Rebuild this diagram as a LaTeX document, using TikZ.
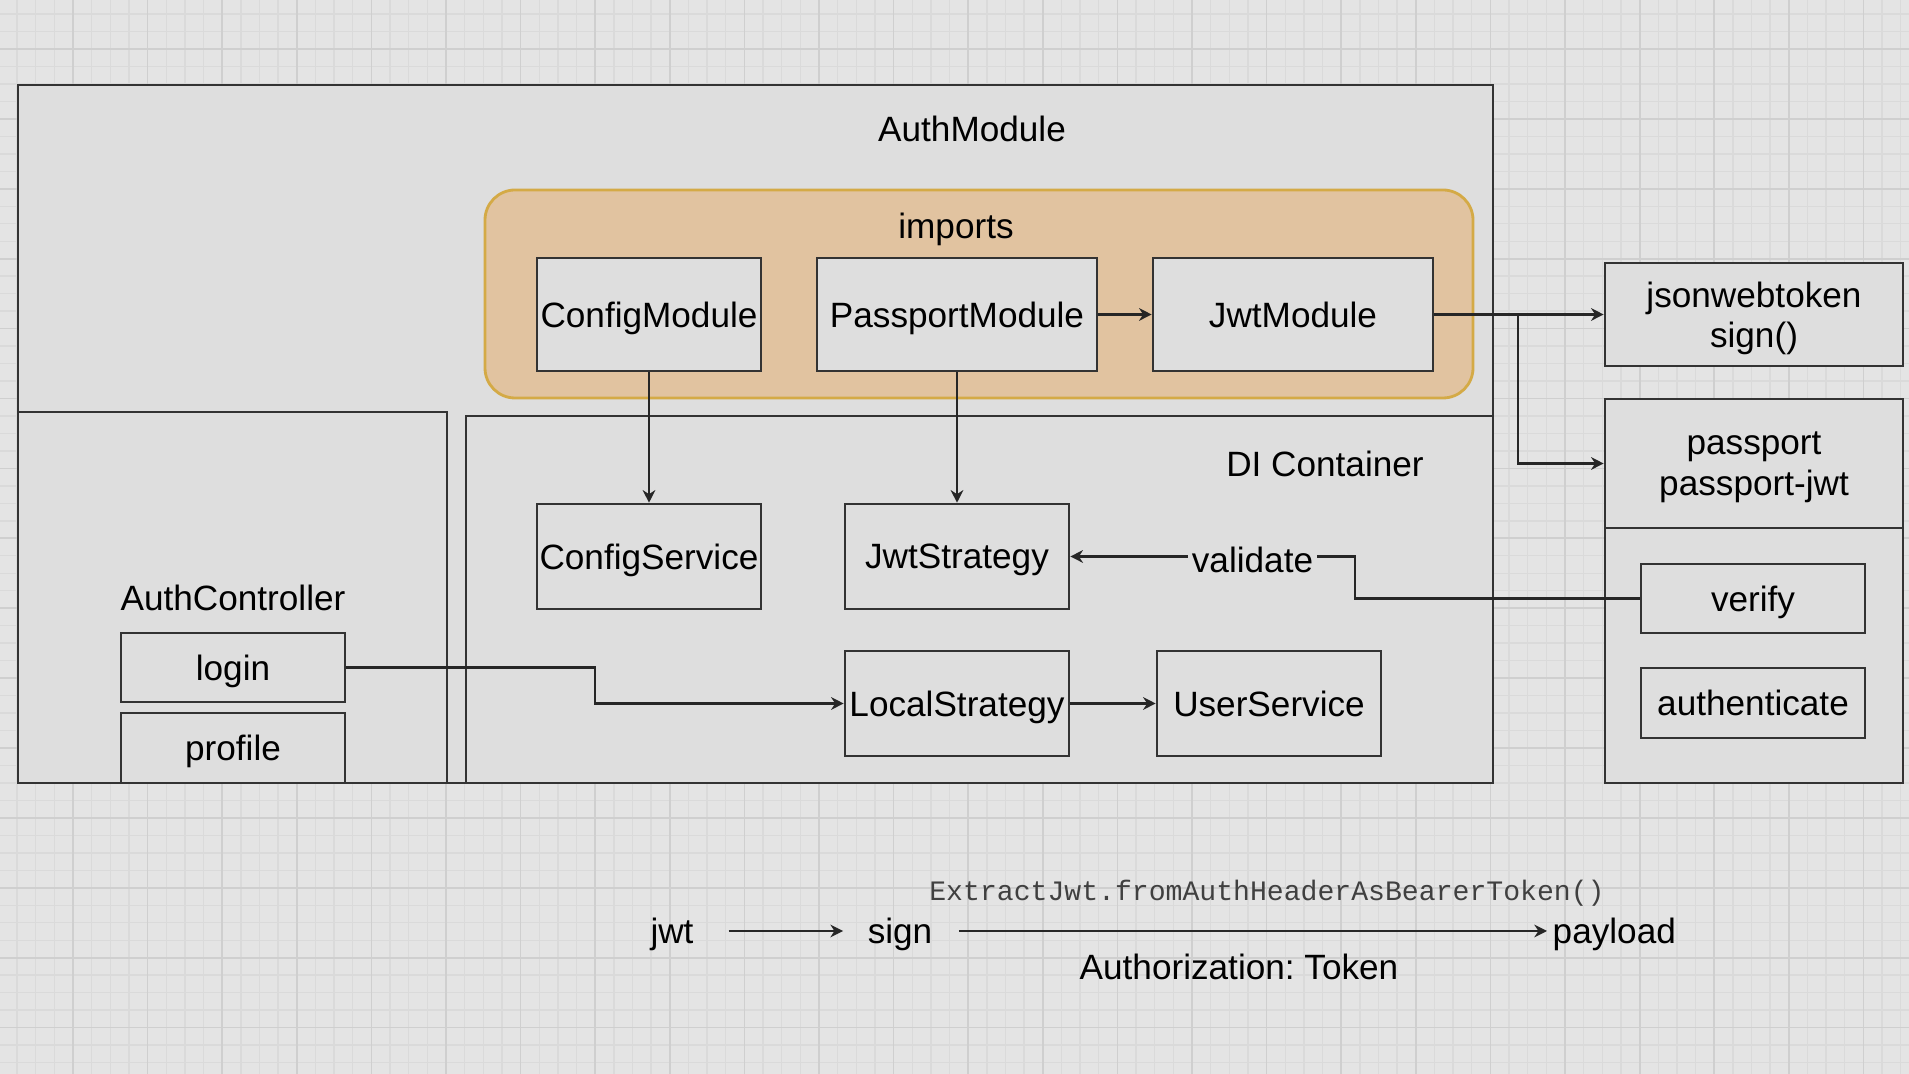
\documentclass[tikz,border=0pt]{standalone}
\usepackage{fontspec}
\setmainfont{Liberation Sans}
\setmonofont{Liberation Mono}
\usetikzlibrary{arrows.meta,positioning}
\frenchspacing

\definecolor{bggray}{RGB}{228,228,228}
\definecolor{boxgray}{RGB}{222,222,222}
\definecolor{minorline}{RGB}{218,218,218}
\definecolor{majorline}{RGB}{207,207,207}
\definecolor{impfill}{RGB}{225,195,160}
\definecolor{impdraw}{RGB}{212,170,70}

\begin{document}
\begin{tikzpicture}[x=0.01cm,y=-0.01cm,
	font=\fontsize{10}{11.5}\selectfont,
	every node/.append style={text depth=0pt},
	frame/.style={draw=black!80, line width=0.7pt, fill=boxgray},
	box/.style={frame, inner sep=0pt, align=center},
	mod/.style={box, minimum width=2.24cm, minimum height=1.13cm},
	svc/.style={box, minimum width=2.24cm, minimum height=1.05cm},
	small/.style={box, minimum width=2.24cm, minimum height=0.69cm},
	arr/.style={-{Stealth[length=3.6pt,width=3.6pt]}, draw=black!85, line width=0.6pt},
	lbl/.style={fill=boxgray, inner sep=1pt},
	flow/.style={inner sep=0pt},
	mono/.style={font=\fontsize{8}{9}\ttfamily, text=black!75}]
	\useasboundingbox (0,0) rectangle (1909,1074);
	\begin{scope}
		\clip (0,0) rectangle (1909,1074);
		\fill[bggray] (0,0) rectangle (1909,1074);
		\foreach \i in {0,...,103} \draw[minorline, line width=0.4pt] ({-1.6+18.65*\i},0) -- ++(0,1074);
		\foreach \j in {0,...,62} \draw[minorline, line width=0.4pt] (0,{-3.4+17.475*\j}) -- ++(1909,0);
		\foreach \i in {0,...,25} \draw[majorline, line width=0.5pt] ({-1.6+74.6*\i},0) -- ++(0,1074);
		\foreach \j in {0,...,15} \draw[majorline, line width=0.5pt] (0,{-20.9+69.9*\j}) -- ++(1909,0);
	\end{scope}

	\draw[frame] (18,85) rectangle (1493,783);
	\node (authmod) at (972,129) {AuthModule};
	\draw[fill=impfill, draw=impdraw, line width=0.8pt, rounded corners=0.3cm] (485,190) rectangle (1473,398);
	\node (imports) at (956,226) {imports};
	\node[mod] (cfgmod) at (649,314.5) {ConfigModule};
	\node[mod, minimum width=2.8cm] (ppmod) at (957,314.5) {PassportModule};
	\node[mod, minimum width=2.8cm] (jwtmod) at (1293,314.5) {JwtModule};

	\draw[frame] (18,412) rectangle (447,783);
	\node (authctrl) at (233,598) {AuthController};
	\node[small] (login) at (233,667.5) {login};
	\node[small, minimum height=0.7cm] (profile) at (233,748) {profile};

	\draw[frame] (466,416) rectangle (1493,783);
	\node (di) at (1325,464) {DI Container};
	\node[svc] (cfgsvc) at (649,556.5) {ConfigService};
	\node[svc] (jwtstr) at (957,556.5) {JwtStrategy};
	\node[svc] (localstr) at (957,703.5) {LocalStrategy};
	\node[svc] (usersvc) at (1269,703.5) {UserService};

	\node[box, minimum width=2.98cm, minimum height=1.03cm] (jsonwt) at (1754,314.5) {jsonwebtoken\\sign()};
	\draw[frame] (1605,528) rectangle (1903,783);
	\node[box, minimum width=2.98cm, minimum height=1.29cm] (pp) at (1754,463.5) {passport\\passport-jwt};
	\node[small] (verify) at (1753,598.5) {verify};
	\node[small, minimum height=0.7cm] (authn) at (1753,703) {authenticate};

	\coordinate (split) at (1518,314.5);
	\coordinate (vb) at (1355,556.5);
	\coordinate (lb) at (595,703.5);
	\draw[arr] (ppmod) -- (jwtmod);
	\draw[arr] (jwtmod.east) -- (jsonwt.west);
	\draw[arr] (split) |- (pp.west);
	\draw[arr] (cfgmod) -- (cfgsvc);
	\draw[arr] (ppmod) -- (jwtstr);
	\draw[arr] (verify.west) -| (vb) -- node[lbl, pos=0.36, yshift=-1pt] {validate} (jwtstr.east);
	\draw[arr] (login.east) -| (lb) -- (localstr.west);
	\draw[arr] (localstr) -- (usersvc);

	\node[flow] (jwt) at (672,931) {jwt};
	\node[flow] (sign) at (900,931) {sign};
	\node[flow, anchor=west] (payload) at (1552,931) {payload};
	\draw[arr, shorten <=0.345cm, shorten >=0.24cm] (jwt) -- (sign);
	\draw[arr, shorten <=0.26cm, shorten >=0.05cm] (sign) -- (payload);
	\node[mono] (extract) at (1267,890) {ExtractJwt.fromAuthHeaderAsBearerToken()};
	\node (authz) at (1239,967) {Authorization: Token};
\end{tikzpicture}
\end{document}
